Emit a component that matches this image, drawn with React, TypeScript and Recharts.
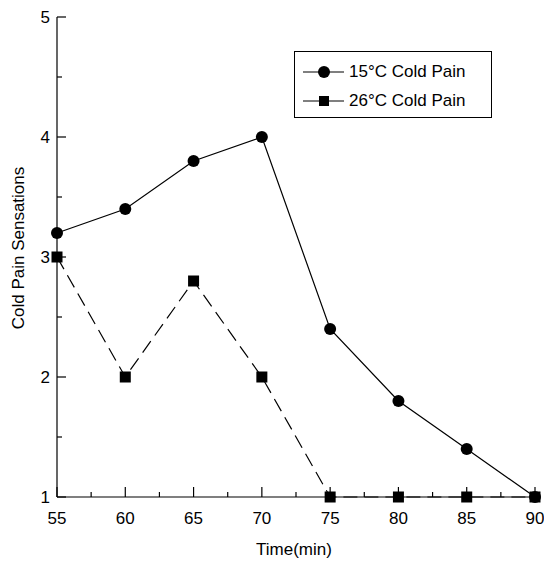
import React from "react";
import { Legend, Line, LineChart, XAxis, YAxis } from "recharts";

const times = [55, 60, 65, 70, 75, 80, 85, 90];
const pain15 = [3.2, 3.4, 3.8, 4.0, 2.4, 1.8, 1.4, 1.0];
const pain26 = [3.0, 2.0, 2.8, 2.0, 1.0, 1.0, 1.0, 1.0];
const xTicks = [55, 57.5, 60, 62.5, 65, 67.5, 70, 72.5, 75, 77.5, 80, 82.5, 85, 87.5, 90];
const yTicks = [1, 1.5, 2, 2.5, 3, 3.5, 4, 4.5, 5];

const FONT = "'Liberation Sans', Arial, sans-serif";

const data = times.map((t, i) => ({ time: t, p15: pain15[i], p26: pain26[i] }));

function XTick(props: any) {
  const { x, y, payload } = props;
  const major = payload.value % 5 === 0;
  return (
    <g>
      <line x1={x} x2={x} y1={y} y2={y - (major ? 10 : 5)} stroke="#000" strokeWidth={1.2} />
      {major ? (
        <text x={x} y={y + 27} textAnchor="middle" fontSize={17} fontFamily={FONT} fill="#000">
          {payload.value}
        </text>
      ) : null}
    </g>
  );
}

function YTick(props: any) {
  const { x, y, payload } = props;
  const major = Number.isInteger(payload.value);
  return (
    <g>
      <line x1={x} x2={x + (major ? 9 : 5)} y1={y} y2={y} stroke="#000" strokeWidth={1.2} />
      {major ? (
        <text x={x - 7} y={y + 6} textAnchor="end" fontSize={17} fontFamily={FONT} fill="#000">
          {payload.value}
        </text>
      ) : null}
    </g>
  );
}

function SquareDot(props: any) {
  const { cx, cy } = props;
  if (cx == null || cy == null) return null;
  return <rect x={cx - 5.5} y={cy - 5.5} width={11} height={11} fill="#000" />;
}

function YLabel() {
  return (
    <text
      x={24}
      y={248}
      transform="rotate(-90 24 248)"
      textAnchor="middle"
      fontSize={17}
      fontFamily={FONT}
      fill="#000"
    >
      Cold Pain Sensations
    </text>
  );
}

function XLabel() {
  return (
    <text x={294} y={555} textAnchor="middle" fontSize={17} fontFamily={FONT} fill="#000">
      Time(min)
    </text>
  );
}

function LegendBox() {
  const rows = [
    { label: "15°C Cold Pain", shape: "circle" },
    { label: "26°C Cold Pain", shape: "square" }
  ];
  return (
    <div
      style={{
        width: 198,
        height: 67,
        border: "1px solid #000",
        background: "#fff",
        boxSizing: "border-box",
        fontFamily: FONT,
        fontSize: 17,
        paddingTop: 5
      }}
    >
      {rows.map((r) => (
        <div key={r.label} style={{ display: "flex", alignItems: "center", height: 29 }}>
          <svg width={46} height={14} style={{ marginLeft: 8 }}>
            <line x1={0} x2={41} y1={7} y2={7} stroke="#000" strokeWidth={1.2} />
            {r.shape === "circle" ? (
              <circle cx={21} cy={7} r={6} fill="#000" />
            ) : (
              <rect x={16} y={2} width={10} height={10} fill="#000" />
            )}
          </svg>
          <span style={{ color: "#000" }}>{r.label}</span>
        </div>
      ))}
    </div>
  );
}

export default function App() {
  return (
    <div style={{ position: "absolute", left: 0, top: 0, width: 544, height: 566, background: "#fff" }}>
      <LineChart width={544} height={566} data={data} margin={{ top: 17, right: 9, left: 0, bottom: 0 }}>
        <XAxis
          dataKey="time"
          type="number"
          domain={[55, 90]}
          ticks={xTicks}
          interval={0}
          tickSize={0}
          tickMargin={0}
          tickLine={false}
          tick={<XTick />}
          height={69}
          axisLine={{ stroke: "#000", strokeWidth: 1.2 }}
          label={<XLabel />}
        />
        <XAxis
          xAxisId="top"
          orientation="top"
          dataKey="time"
          type="number"
          domain={[55, 90]}
          height={0}
          tick={false}
          tickLine={false}
          axisLine={{ stroke: "#000", strokeWidth: 1.2 }}
        />
        <YAxis
          type="number"
          domain={[1, 5]}
          ticks={yTicks}
          interval={0}
          tickSize={0}
          tickMargin={0}
          tickLine={false}
          tick={<YTick />}
          width={57}
          axisLine={{ stroke: "#000", strokeWidth: 1.2 }}
          label={<YLabel />}
        />
        <YAxis
          yAxisId="right"
          orientation="right"
          type="number"
          domain={[1, 5]}
          width={0}
          tick={false}
          tickLine={false}
          axisLine={{ stroke: "#000", strokeWidth: 1.2 }}
        />
        <Legend
          layout="horizontal"
          verticalAlign="middle"
          align="center"
          wrapperStyle={{ position: "absolute", left: 294, top: 51, width: 198 }}
          content={() => <LegendBox />}
        />
        <Line
          type="linear"
          dataKey="p15"
          stroke="#000"
          strokeWidth={1.2}
          dot={{ r: 6, fill: "#000", stroke: "#000", strokeWidth: 0 }}
          isAnimationActive={false}
        />
        <Line
          type="linear"
          dataKey="p26"
          stroke="#000"
          strokeWidth={1.2}
          strokeDasharray="14 7"
          dot={<SquareDot />}
          isAnimationActive={false}
        />
      </LineChart>
    </div>
  );
}
